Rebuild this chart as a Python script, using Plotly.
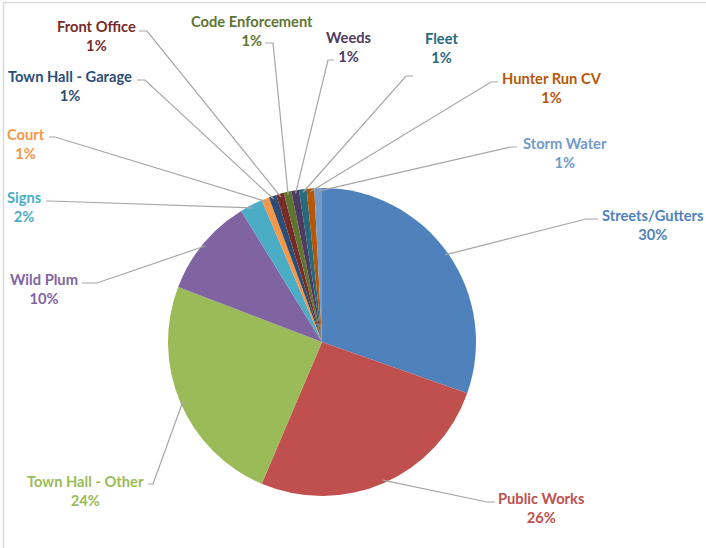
import math
import plotly.graph_objects as go

W, H = 706, 548
OFF = 0  # page body margin removed via post_script

names = ["Streets/Gutters", "Public Works", "Town Hall - Other", "Wild Plum", "Signs",
         "Court", "Town Hall - Garage", "Front Office", "Code Enforcement", "Weeds",
         "Fleet", "Hunter Run CV", "Storm Water"]
values = [30.4, 26.0, 24.4, 10.4, 2.4, 0.8, 0.8, 0.8, 0.8, 0.8, 0.8, 0.8, 0.8]
colors = ["#4F81BD", "#C0504D", "#9BBB59", "#8064A2", "#4BACC6", "#F79646", "#2C4D75",
          "#772C2A", "#5F7530", "#4D3B62", "#276A7C", "#B65708", "#729ACA"]

# label layout (pixel positions): text block centre, leader start, elbow
label_center = [(653, 224.5), (541, 507.5), (85, 490.5), (44, 288.5), (24, 206),
                (26, 143), (70, 85), (96, 35.5), (252, 30.5), (348, 46.5),
                (442, 47.5), (552, 87.5), (565, 152.5)]
leader_start = [(598, 219), (495, 502), (148, 484), (82, 283), (46, 201),
                (49, 137), (137, 80), (139, 31), (265, 43), (334, 60),
                (413, 76), (498, 82), (517, 147)]
leader_elbow = [(586, 219), (487, 502), (153, 484), (97, 283), (50, 201),
                (55, 137), (145, 80), (147, 31), (273, 43), (328, 60),
                (406, 76), (491, 82), (511, 147)]

# pie geometry in pixels
CX, CY, R = 322, 342, 154


def px(x):
    return (x - OFF) / W


def py(y):
    return 1 - (y - OFF) / H


fig = go.Figure(go.Pie(
    labels=names, values=values, sort=False, direction="clockwise", rotation=0,
    marker=dict(colors=colors, line=dict(width=0)),
    textinfo="none", hoverinfo="label+percent", showlegend=False,
    domain=dict(x=[px(CX - R), px(CX + R)], y=[py(CY + R), py(CY - R)]),
))

total = sum(values)
cum = 0.0
shapes = []
annotations = []
for i, (n, v) in enumerate(zip(names, values)):
    mid = (cum + v / 2) / total * 2 * math.pi
    cum += v
    ex = CX + R * 0.98 * math.sin(mid)
    ey = CY - R * 0.98 * math.cos(mid)
    ax, ay = leader_start[i]
    bx, by = leader_elbow[i]
    path = f"M {px(ax)} {py(ay)} L {px(bx)} {py(by)} L {px(ex)} {py(ey)}"
    shapes.append(dict(type="path", path=path, xref="paper", yref="paper",
                       line=dict(color="#A6A6A6", width=1.2)))
    pct = round(v / total * 100)
    lx, ly = label_center[i]
    annotations.append(dict(
        x=px(lx), y=py(ly), xref="paper", yref="paper", xanchor="center", yanchor="middle",
        text=f"<b>{n}</b><br><b>{pct}%</b>", showarrow=False, align="center",
        font=dict(family="Lato", size=14.7, color=colors[i])))

shapes.append(dict(type="rect", xref="paper", yref="paper", x0=px(3.5), y0=-0.05, x1=1.05, y1=py(2.5),
                   line=dict(color="#D9D9D9", width=1.5), layer="below"))

fig.update_layout(width=W, height=H, margin=dict(l=0, r=0, t=0, b=0),
                  paper_bgcolor="white", plot_bgcolor="white",
                  shapes=shapes, annotations=annotations)

fig.write_html("out.html", config={"displayModeBar": False},
               post_script="document.body.style.margin='0px';document.body.style.overflow='hidden';")
